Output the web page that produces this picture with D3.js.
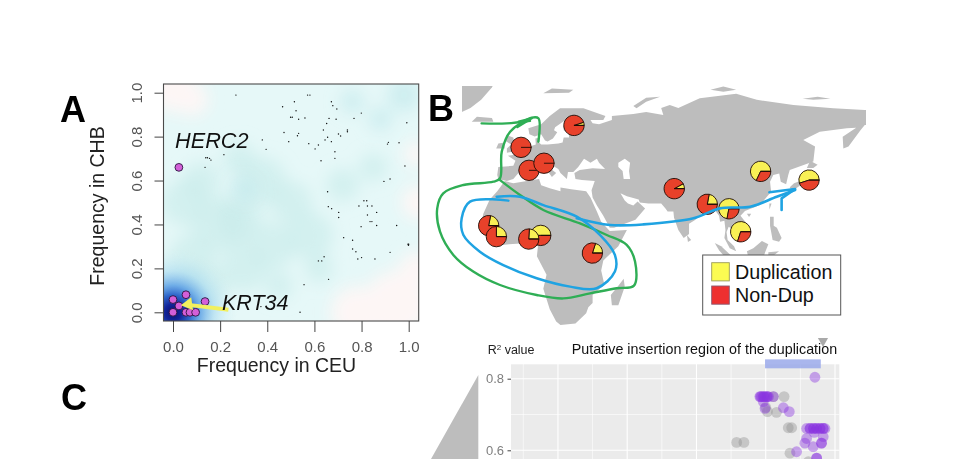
<!DOCTYPE html>
<html><head><meta charset="utf-8">
<script src="https://cdn.jsdelivr.net/npm/d3@7"></script>
<style>html,body{margin:0;padding:0;background:#fff}svg{display:block;font-family:"Liberation Sans",Arial,sans-serif}</style>
</head><body><svg id="c" width="978" height="459"></svg>
<script>
// ---------- Panel A data ----------
const axisTicksA = [0,0.2,0.4,0.6,0.8,1.0];
const highlightPoints = [[.025,.66],[0,.058],[.055,.08],[.136,.049],[.025,.029],[0,0],[.055,0],[.072,0],[.096,0]];
const smallDots = [[.267,.989],[.571,.989],[.581,.989],[.465,.936],[.515,.959],[.522,.918],[.499,.888],[.506,.888],[.533,.879],[.56,.885],[.471,.819],[.491,.777],[.528,.804],[.533,.815],[.379,.785],[.395,.742],[.139,.704],[.146,.704],[.155,.701],[.161,.693],[.136,.66],[.216,.718],[.576,.768],[.603,.744],[.617,.762],[.628,.69],[.638,.83],[.645,.785],[.656,.797],[.652,.86],[.662,.883],[.672,.959],[.678,.941],[.695,.926],[.692,.879],[.672,.777],[.687,.731],[.687,.701],[.702,.812],[.711,.803],[.74,.83],[.74,.822],[.768,.883],[.799,.907],[.992,.863],[.914,.774],[.91,.766],[.959,.772],[.984,.666],[.895,.596],[.921,.607],[.656,.549],[.659,.481],[.673,.472],[.703,.455],[.703,.432],[.789,.484],[.81,.508],[.822,.508],[.825,.484],[.844,.484],[.825,.443],[.836,.413],[.844,.413],[.864,.455],[.864,.395],[.798,.39],[.949,.395],[.997,.31],[.999,.305],[1.0,.31],[.724,.34],[.762,.328],[.762,.288],[.776,.276],[.784,.243],[.8,.249],[.857,.243],[.921,.273],[.641,.253],[.617,.234],[.631,.234],[.66,.15],[.556,.126],[.539,0],[.373,.026]];
const densityTeal = [[.05,.5,.1],[.2,.4,.12],[.08,.25,.1],[.3,.2,.1],[.5,.5,.09],[.38,.6,.1],[.28,.7,.07],[.72,.58,.07],[.58,.35,.1],[.62,.2,.06],[.13,.12,.1],[.42,.3,.1],[.28,.42,.1],[.12,.6,.08],[.85,.66,.06],[.45,.12,.06]];
const densityBlueTop = [[.98,.99,.07],[.88,.88,.05],[.76,.96,.05],[.3,.56,.06]];
const densityPink = [[.0,1.02,.1],[.08,.97,.07],[.78,.0,.11],[.95,.04,.14],[1.03,.2,.07],[1.04,.5,.07],[1.03,.72,.05]];
const krtArrow = [[.235,.012],[.058,.035]];
const krtTip = [.044,.037];

// ---------- Panel B data ----------
const land = {
eurasia:[[-9,37],[-9.5,39],[-9,43],[-2,43.5],[-1,46],[-4.5,48.5],[-1.5,49],[2,51],[4,52],[7,53.5],[8.5,54],[8.3,57],[10.5,57.5],[10,55],[11,54],[14,54],[19,54.5],[21,55],[21.5,57.5],[24,57.5],[24,59.3],[29,60],[23,60],[21.5,61],[21.5,63],[25,65],[22,65.8],[17.5,62.5],[17,61],[18.5,60],[16.5,57],[14,55.5],[12.8,56],[11,59],[8,58],[5.5,59],[5,62],[11,64],[15,68],[19.8,71.8],[30.7,71.8],[41,68],[40,66],[34,66],[35,64.5],[38,64],[44,66],[44,68],[54,69],[60,70],[68,68.5],[67,72],[71,73.4],[75,72],[85,76.7],[102,79],[111.6,76],[128.7,73.4],[147.3,71.8],[162,71],[175,71],[175,63.6],[162,63.6],[160,61],[154.4,53],[152,52],[151.7,57.8],[158,62.3],[153.6,62],[141,60.3],[133.3,56.2],[138.8,53],[138,45.6],[127,41.5],[126.3,39],[125.3,34.4],[122.8,35.7],[122.1,39.8],[119.3,39],[117.8,35.7],[118.3,30.8],[113.1,24.2],[106.1,21.3],[104,19],[107,15],[107,11],[103,9],[100,12.5],[98.5,13.5],[97.5,11],[98,7],[101,4],[102,1.5],[99,3],[96.5,8],[97,12],[96.5,16.5],[94.5,16],[94,19],[91.5,22.5],[89,22],[87,21],[83,17],[80,15],[80,10],[77.5,8],[75,12],[73,18],[72.7,21],[70,21],[69,22.5],[67,25],[61,25],[57,25.5],[56.5,27],[51,28.5],[48,30],[50,26.5],[51.5,25],[54,24],[56,26],[59.5,22.5],[55,17],[45,13],[43,13],[40,19],[37,24],[35,28],[34.5,31.5],[36,36],[30,36.5],[27,37],[26.5,40],[29,41.5],[35,42.3],[40.8,42],[38,45],[37,47],[34,45],[31,47],[28.3,43],[26,40.5],[23.5,40.5],[23,37],[20,40],[19,42],[14,45],[12.5,44.5],[18,40],[16,38],[14,41],[10,44],[6,43],[3,43],[0,39.5],[-2,37],[-5,36]],
africa:[[-6,36],[-2,35],[10,37],[11,34],[15,32.5],[20,31],[20,32.8],[25,32],[32,31],[34,28],[37,21],[39,16],[43,11.5],[51,12],[47,4],[40,-3],[39,-8],[40.5,-15],[35,-20],[35,-24],[33,-26],[32,-29],[27,-34],[20,-34.8],[18,-33],[15,-27],[12,-17],[13.5,-10],[9,-1],[9.5,4],[5,5.5],[-4,5],[-8,4.5],[-13,9],[-17,14.5],[-16,20],[-13,27],[-9.5,31]],
britain:[[-5,50],[1,51],[1.5,53],[-1.5,55],[-2,57.5],[-5,58.5],[-6,56],[-3,54],[-5,52]],
ireland:[[-10,52],[-6,52],[-6,55],[-9,54.5]],
iceland:[[-21.4,65.2],[-11.3,65.2],[-12,67],[-19,67.7]],
greenland:[[-26,86],[-10,86],[-12,82],[-17,76],[-22,72],[-26,70]],
svalbard:[[12,79.2],[16,81.6],[26,81],[24,79.5]],
novaya:[[55.5,71.8],[60,75],[66.5,77.5],[60,77],[54,73]],
severnaya:[[90,81],[96,82.5],[102,81],[96,80]],
newsib:[[133,76.5],[140,77.5],[146,76.5],[138,76]],
madagascar:[[49.5,-12],[50,-16],[47,-25],[44,-25],[43.5,-20],[47,-15.5]],
srilanka:[[79,9.5],[81,7],[79.5,6]],
sumatra:[[92,5.5],[95,4],[101,-2],[103,-6],[99,-4],[94,2]],
java:[[102.5,-6.5],[111,-7.5],[111,-8.5],[103,-7.5]],
borneo:[[107,1.5],[110,3],[114,6.5],[117,5],[115.5,1],[114,-4],[108,-3]],
sulawesi:[[117,1],[122,1.5],[119,-1],[119,-5],[117,-5]],
philippines:[[117.8,18.5],[119.5,18.5],[119.5,14],[121,13],[123.2,8],[122,6.2],[119,7],[117.8,14]],
taiwan:[[117.5,25],[118.5,25],[117.5,22]],
hainan:[[107,20],[109,20],[108,18.3]],
honshu:[[127,33],[128,31],[132,34],[137,35],[138,38],[138.5,41],[137,41],[136,38],[133,36.5],[129,35]],
hokkaido:[[135,42.5],[136.5,46],[140,44],[138,42.5]]
};
const caspian = [[47,45],[50,47],[52.5,45],[52,41],[52.5,37],[49.5,37],[49,41],[47,43]];
const popLon  = [26.3,1.6,5.3,12.3,-13.5,-9.9,10.8,5.2,34.9,73.1,88.5,98.6,104.1,113.4,136];
const popLat  = [63.4,52.6,41.3,44.8,14.1,8.7,9.3,7.5,.6,32.3,24.6,22.4,11.1,40.8,36.5];
const popDup  = [.05,0,0,0,.22,.25,.5,.24,.2,.08,.22,.72,.7,.68,.55];
const legendLabels = ["Duplication","Non-Dup"];
const greenArrow = [[-16.8,64.4],[-5.1,64.4],[5.8,65.6]];
const greenHead  = [[-.1,62.6],[6.6,66.9],[.5,65.2]];
const greenLoop  = [[9.7,55.4],[9.7,66.9],[6.6,67.2],[-3.5,60.3],[-7.4,50.5],[-8.2,37.4],[-11.3,35.7],[-25.3,34.1],[-34.7,30],[-37.5,22.6],[-36.2,11.1],[-30,-.3],[-20.7,-8.5],[-8.2,-15.1],[8.9,-20],[21.3,-21.7],[33.8,-19.2],[46.2,-16.7],[54.3,-15.4],[54.8,-3.6],[50.9,4.6],[41.6,9.5],[29.1,15.2],[12,21.8],[1.1,29.2],[-8.2,36.5]];
const blueLoop   = [[-4.3,26.4],[-22.2,25.9],[-26.1,17.7],[-25.3,9.5],[-17.6,1.3],[-6.7,-5.3],[8.9,-11.8],[24.5,-15.9],[36.9,-16.7],[45.4,-8.5],[45.4,-.3],[38.4,9.5],[27.6,18.5],[12,24.2],[1.1,28.3],[-9.8,28.3]];
const blueRoute  = [[27.6,17.7],[43.1,14.4],[58.7,14.7],[82,17.7],[94.4,22.6],[108.5,23.4],[120.9,28.3],[129.5,31.6]];
const blueHead   = [[117.5,30.5],[129.5,32.1],[123.2,27.5],[123.2,21.8]];

// ---------- Panel C data ----------
const ticksC = [.6,.8];
const minorTicksC = [.7];
const gridMajorC = [1,3,5,7,9];
const gridMinorC = [0,2,4,6,8];
const insertion = [6.98,8.59];
const insertionR2 = [.854,.829];
const purpleX = [8.42,6.83,6.88,6.93,6.98,7.03,7.08,6.85,6.95,7.05,6.93,6.98,7.22,7.51,7.68,8.18,8.28,8.38,8.47,8.57,8.66,8.71,8.28,8.38,8.47,8.57,8.66,8.18,8.66,8.13,8.37,8.61,8.61,7.89,8.47,8.47,8.4];
const purpleY = [.804,.75,.75,.75,.75,.75,.75,.75,.75,.75,.736,.717,.75,.719,.708,.661,.661,.661,.661,.661,.661,.661,.661,.661,.661,.661,.661,.633,.638,.62,.61,.62,.62,.596,.578,.578,.65];
const grayX = [7.53,7.22,7.05,7.31,7.65,7.75,6.16,6.37,7.7,8.23,7.0];
const grayY = [.75,.75,.708,.706,.663,.663,.622,.622,.592,.568,.72];

// ---------- Scales ----------
const svg = d3.select("#c");
const xA = d3.scaleLinear().domain([0,1]).range([173,408.7]);
const yA = d3.scaleLinear().domain([0,1]).range([312.3,92.7]);
const boxA = {l:163.5,r:418.7,t:84,b:321};
const lon = d3.scaleLinear().domain([0,100]).range([517.6,731.9]);
const lat = d3.scaleLinear().domain([0,50]).range([254.3,152.65]);
const xC = d3.scaleLinear().domain([0,9]).range([523.3,835]);
const yC = d3.scaleLinear().domain([.6,.8]).range([450.3,378.7]);
const geo = d3.line().x(d=>lon(d[0])).y(d=>lat(d[1]));
const geoCurve = d3.line().x(d=>lon(d[0])).y(d=>lat(d[1])).curve(d3.curveCatmullRom.alpha(.5));
const defs = svg.append("defs");
const blur = (id,s)=>defs.append("filter").attr("id",id).attr("x","-60%").attr("y","-60%").attr("width","220%").attr("height","220%").append("feGaussianBlur").attr("stdDeviation",s);
blur("b8",8); blur("b1",.35); blur("bd",.25);
defs.append("clipPath").attr("id","clipA").append("rect").attr("x",boxA.l).attr("y",boxA.t).attr("width",boxA.r-boxA.l).attr("height",boxA.b-boxA.t);
defs.append("clipPath").attr("id","clipB").append("rect").attr("x",462).attr("y",86).attr("width",404).attr("height",250);
defs.append("clipPath").attr("id","clipC").append("rect").attr("x",511).attr("y",358).attr("width",329).attr("height",101);
const grad = defs.append("radialGradient").attr("id","dens").attr("gradientUnits","userSpaceOnUse")
  .attr("cx",xA(.0)).attr("cy",yA(.0)).attr("r",64);
[[0,"#0a0f6e",1],[.13,"#12259a",1],[.27,"#2a62c8",.98],[.42,"#5a9fe4",.85],[.65,"#a5d8f0",.55],[1,"#d6f2f4",0]]
  .forEach(s=>grad.append("stop").attr("offset",s[0]).attr("stop-color",s[1]).attr("stop-opacity",s[2]));

// ---------- Panel A ----------
const A = svg.append("g");
const dens = A.append("g").attr("clip-path","url(#clipA)");
dens.append("rect").attr("x",boxA.l).attr("y",boxA.t).attr("width",boxA.r-boxA.l).attr("height",boxA.b-boxA.t).attr("fill","#e6f8f8");
const blobs = (arr,col,op)=>dens.append("g").attr("filter","url(#b8)").selectAll("circle").data(arr).join("circle")
  .attr("cx",d=>xA(d[0])).attr("cy",d=>yA(d[1])).attr("r",d=>xA(d[2])-xA(0)).attr("fill",col).attr("opacity",op);
blobs(densityTeal,"#c8ecea",.62);
blobs(densityBlueTop,"#c4e9ec",.7);
blobs(densityPink,"#fdf6f5",1);
dens.append("rect").attr("x",boxA.l).attr("y",yA(0)-70).attr("width",90).attr("height",90).attr("fill","url(#dens)");
A.append("g").attr("filter","url(#bd)").selectAll("circle").data(smallDots).join("circle")
  .attr("cx",d=>xA(d[0])).attr("cy",d=>yA(d[1])).attr("r",.7).attr("fill","#111");
A.append("g").selectAll("circle").data(highlightPoints).join("circle")
  .attr("cx",d=>xA(d[0])).attr("cy",d=>yA(d[1])).attr("r",3.9).attr("fill","#d35fd8").attr("stroke","#2a1440").attr("stroke-width",.9);
A.append("path").attr("d",d3.line().x(d=>xA(d[0])).y(d=>yA(d[1]))(krtArrow)).attr("stroke","#f2f05e").attr("stroke-width",4).attr("fill","none");
A.append("path").attr("d",d3.symbol(d3.symbolTriangle,75)()).attr("fill","#f2f05e")
  .attr("transform",`translate(${xA(krtTip[0])+5},${yA(krtTip[1])}) rotate(-98)`);
A.append("rect").attr("x",boxA.l).attr("y",boxA.t).attr("width",boxA.r-boxA.l).attr("height",boxA.b-boxA.t).attr("fill","none").attr("stroke","#4a4a4a").attr("stroke-width",1.1);
const axB = A.append("g").attr("transform",`translate(0,${boxA.b})`).call(d3.axisBottom(xA).tickValues(axisTicksA).tickFormat(d3.format(".1f")).tickSize(11).tickSizeOuter(0));
axB.select(".domain").remove();
axB.selectAll("line").attr("stroke","#444");
axB.selectAll("text").attr("y",31).attr("dy",0).attr("font-size",15).attr("fill","#555").attr("font-family","inherit");
const axL = A.append("g").attr("transform",`translate(${boxA.l},0)`).call(d3.axisLeft(yA).tickValues(axisTicksA).tickFormat(d3.format(".1f")).tickSize(9).tickSizeOuter(0));
axL.select(".domain").remove();
axL.selectAll("line").attr("stroke","#444");
axL.selectAll("text").attr("x",0).attr("dy",0).attr("text-anchor","middle").attr("transform","translate(-21.8,0) rotate(-90)").attr("font-size",15).attr("fill","#555").attr("font-family","inherit");
A.append("text").attr("x",276.5).attr("y",372).attr("text-anchor","middle").attr("font-size",19.5).attr("fill","#222").text("Frequency in CEU");
A.append("text").attr("transform","translate(104,206) rotate(-90)").attr("text-anchor","middle").attr("font-size",19.5).attr("fill","#222").text("Frequency in CHB");
A.append("text").attr("x",175).attr("y",148).attr("font-size",21.7).attr("font-style","italic").attr("fill","#111").text("HERC2");
A.append("text").attr("x",222).attr("y",310).attr("font-size",21.5).attr("font-style","italic").attr("fill","#111").text("KRT34");
const letter=(t,x,y)=>svg.append("text").attr("x",x).attr("y",y).attr("font-size",36).attr("font-weight","bold").attr("fill","#000").text(t);
letter("A",60,122); letter("B",428,121); letter("C",61,410);

// ---------- Panel B ----------
const B = svg.append("g");
const map = B.append("g").attr("clip-path","url(#clipB)");
map.selectAll("path.land").data(Object.values(land)).join("path").attr("class","land")
  .attr("d",d=>geo(d)+"Z").attr("fill","#bdbdbd").attr("filter","url(#b1)");
map.append("path").attr("d",geo(caspian)+"Z").attr("fill","#fff");
const pie = d3.pie().sort(null).startAngle(Math.PI/2).endAngle(Math.PI/2-2*Math.PI);
const arc = d3.arc().innerRadius(0).outerRadius(10.2);
const pieData = popDup.map((d,i)=>({d,lon:popLon[i],lat:popLat[i]}));
const pies = B.append("g").selectAll("g").data(pieData).join("g").attr("transform",d=>`translate(${lon(d.lon)},${lat(d.lat)})`);
pies.selectAll("path").data(d=>pie([d.d,1-d.d])).join("path").attr("d",arc)
  .attr("fill",(d,i)=>i===0?"#f9f055":"#e8412a").attr("stroke","#1e0c06").attr("stroke-width",.9);
pies.append("line").attr("x1",0).attr("y1",0).attr("x2",10.2).attr("y2",0).attr("stroke","#1e0c06").attr("stroke-width",.9);
const stroke=(g,d,c,line,w)=>g.append("path").attr("d",line(d)).attr("fill","none").attr("stroke",c).attr("stroke-width",w).attr("stroke-linecap","round").attr("stroke-linejoin","round");
const green="#2fae55", blue="#1fa3e2";
stroke(B,greenArrow,green,geoCurve,2.4); stroke(B,greenHead,green,geo,2.4);
stroke(B,greenLoop,green,geoCurve,2.4);
stroke(B,blueLoop,blue,geoCurve,2.5); stroke(B,blueRoute,blue,geoCurve,2.6); stroke(B,blueHead,blue,geo,2.6);
// legend
const L = B.append("g");
L.append("rect").attr("x",702.7).attr("y",255).attr("width",138).attr("height",60).attr("fill","#fff").attr("stroke","#555").attr("stroke-width",1);
const sw = L.selectAll("g").data(legendLabels).join("g").attr("transform",(d,i)=>`translate(711.7,${262.7+i*23.3})`);
sw.append("rect").attr("width",17.6).attr("height",18.2).attr("fill",(d,i)=>i===0?"#fbfb52":"#ee3030").attr("stroke",(d,i)=>i===0?"#9a9a5a":"#8a5a70").attr("stroke-width",.9);
sw.append("text").attr("x",23.3).attr("y",16).attr("font-size",19.7).attr("fill","#111").text(d=>d);

// ---------- Panel C ----------
const C = svg.append("g");
const connector = d3.area().x(d=>d[0]).y0(d=>d[1]).y1(459);
C.append("path").attr("d",connector([[431,459],[478.3,375]])).attr("fill","#bdbdbd");
C.append("path").attr("d",d3.symbol(d3.symbolTriangle,45)()).attr("fill","#a9a9a9").attr("transform","translate(823,341) rotate(180)");
const plot = C.append("g").attr("clip-path","url(#clipC)");
plot.append("rect").attr("x",511).attr("y",364.3).attr("width",328.3).attr("height",95).attr("fill","#ebebeb");
plot.selectAll("line.vmin").data(gridMinorC).join("line").attr("x1",d=>xC(d)).attr("x2",d=>xC(d)).attr("y1",364).attr("y2",459).attr("stroke","#fff").attr("stroke-width",.6);
plot.selectAll("line.vmaj").data(gridMajorC).join("line").attr("x1",d=>xC(d)).attr("x2",d=>xC(d)).attr("y1",364).attr("y2",459).attr("stroke","#fff").attr("stroke-width",1.1);
plot.selectAll("line.hmin").data(minorTicksC).join("line").attr("x1",511).attr("x2",839.3).attr("y1",d=>yC(d)).attr("y2",d=>yC(d)).attr("stroke","#fff").attr("stroke-width",.6);
plot.selectAll("line.hmaj").data(ticksC).join("line").attr("x1",511).attr("x2",839.3).attr("y1",d=>yC(d)).attr("y2",d=>yC(d)).attr("stroke","#fff").attr("stroke-width",1.1);
plot.append("g").selectAll("circle").data(grayX.map((x,i)=>[x,grayY[i]])).join("circle")
  .attr("cx",d=>xC(d[0])).attr("cy",d=>yC(d[1])).attr("r",5.4).attr("fill","#8f8f8f").attr("opacity",.4);
plot.append("g").selectAll("circle").data(purpleX.map((x,i)=>[x,purpleY[i]])).join("circle")
  .attr("cx",d=>xC(d[0])).attr("cy",d=>yC(d[1])).attr("r",5.4).attr("fill","#8a35e0").attr("opacity",.42);
C.append("rect").attr("x",xC(insertion[0])).attr("width",xC(insertion[1])-xC(insertion[0])).attr("y",yC(insertionR2[0])).attr("height",yC(insertionR2[1])-yC(insertionR2[0])).attr("fill","#9aa9ea").attr("opacity",.85);
const axC = C.append("g").attr("transform","translate(511,0)").call(d3.axisLeft(yC).tickValues(ticksC).tickFormat(d3.format(".1f")).tickSize(3.5).tickSizeOuter(0));
axC.select(".domain").remove();
axC.selectAll("line").attr("stroke","#444");
axC.selectAll("text").attr("x",-7).attr("font-size",13).attr("fill","#7f7f7f").attr("font-family","inherit");
const r2 = C.append("text").attr("x",487.7).attr("y",354).attr("font-size",12.5).attr("fill","#222");
r2.append("tspan").text("R");
r2.append("tspan").attr("font-size",8).attr("dy",-4).text("2");
r2.append("tspan").attr("dy",4).text(" value");
C.append("text").attr("x",571.7).attr("y",354).attr("font-size",14.3).attr("fill","#111").text("Putative insertion region of the duplication");
</script></body></html>
